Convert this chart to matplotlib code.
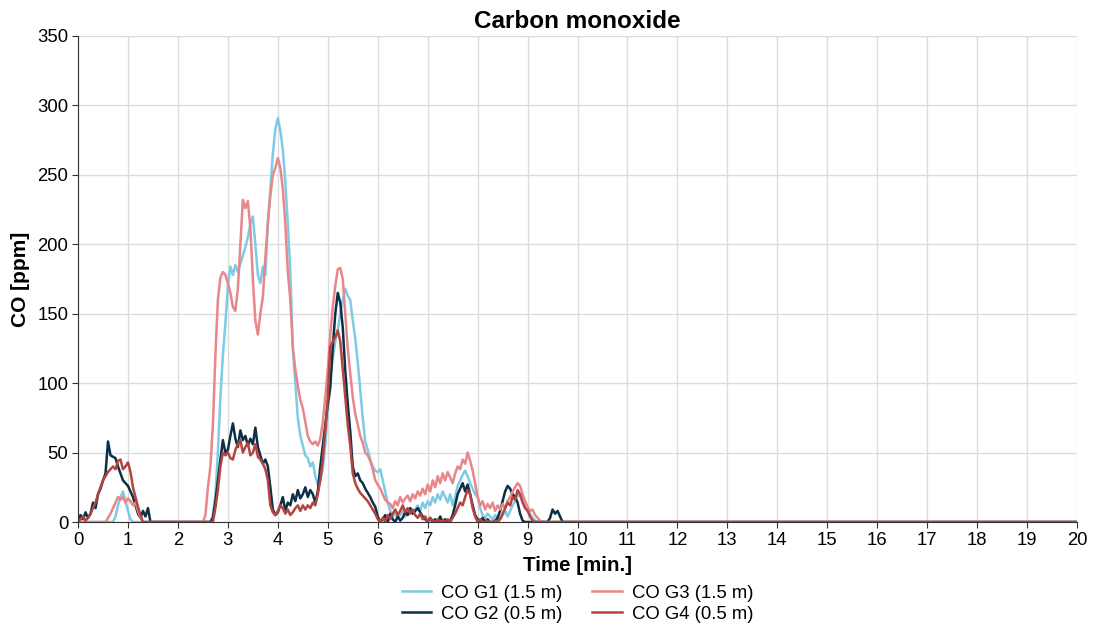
import numpy as np
import matplotlib.pyplot as plt

plt.rcParams['font.family'] = ['Liberation Sans', 'DejaVu Sans']

# time axis: readings every 0.05 min up to 10 min, then flat zero until 20 min
time_min = [round(i * 0.05, 2) for i in range(201)] + [20.0]

co_g1 = [
    0, 0, 0, 0, 0, 0, 0, 0, 0, 0, 0, 0, 0, 0, 0, 4, 12, 18, 22, 15,
    8, 2, 0, 0, 0, 0, 0, 0, 0, 0, 0, 0, 0, 0, 0, 0, 0, 0, 0, 0,
    0, 0, 0, 0, 0, 0, 0, 0, 0, 0, 0, 0, 0, 0, 5, 20, 50, 90, 120, 143,
    170, 184, 178, 185, 180, 186, 192, 198, 205, 215, 220, 200, 178, 172, 184, 178, 215, 240, 265, 283,
    291, 282, 268, 245, 215, 180, 125, 100, 75, 62, 55, 48, 46, 40, 43, 33, 27, 30, 38, 55,
    80, 102, 118, 130, 138, 150, 160, 168, 163, 160, 145, 132, 115, 95, 75, 58, 52, 45, 40, 37,
    36, 38, 30, 22, 14, 8, 4, 6, 3, 5, 8, 4, 7, 10, 6, 9, 12, 8, 14, 10,
    15, 12, 18, 14, 20, 16, 22, 18, 14, 20, 12, 18, 26, 30, 34, 37, 33, 28, 24, 20,
    18, 10, 5, 3, 6, 4, 2, 5, 3, 2, 5, 8, 4, 8, 12, 15, 20, 18, 20, 14,
    10, 6, 3, 1, 0, 0, 0, 0, 0, 0, 0, 0, 0, 0, 0, 0, 0, 0, 0, 0,
    0, 0,
]

co_g2 = [
    0, 5, 2, 7, 3, 6, 14, 10, 20, 24, 30, 35, 58, 48, 47, 46, 40, 35, 30, 28,
    26, 22, 18, 12, 6, 3, 8, 4, 10, 0, 0, 0, 0, 0, 0, 0, 0, 0, 0, 0,
    0, 0, 0, 0, 0, 0, 0, 0, 0, 0, 0, 0, 0, 0, 3, 15, 30, 45, 59, 50,
    52, 62, 71, 60, 54, 66, 59, 62, 55, 60, 56, 68, 54, 48, 42, 45, 40, 25, 9, 5,
    7, 12, 18, 8, 14, 12, 20, 15, 23, 17, 20, 25, 18, 23, 20, 14, 22, 40, 55, 70,
    85, 97, 126, 150, 165, 158, 140, 109, 85, 65, 40, 33, 35, 30, 28, 24, 21, 18, 14, 11,
    4, 0, 2, 5, 0, 6, 2, 0, 4, 1, 3, 7, 5, 10, 6, 8, 10, 7, 4, 2,
    0, 3, 0, 2, 0, 4, 0, 2, 0, 1, 5, 12, 20, 24, 28, 22, 27, 20, 12, 5,
    2, 0, 3, 0, 2, 0, 0, 1, 3, 8, 15, 22, 26, 24, 20, 18, 14, 6, 1, 0,
    0, 0, 0, 0, 0, 0, 0, 0, 0, 3, 9, 6, 8, 4, 0, 0, 0, 0, 0, 0,
    0, 0,
]

co_g3 = [
    0, 0, 0, 0, 0, 0, 0, 0, 0, 0, 0, 0, 3, 6, 10, 14, 18, 16, 18, 14,
    17, 15, 12, 14, 8, 3, 0, 0, 0, 0, 0, 0, 0, 0, 0, 0, 0, 0, 0, 0,
    0, 0, 0, 0, 0, 0, 0, 0, 0, 0, 0, 5, 25, 40, 70, 120, 160, 176, 180, 178,
    172, 165, 155, 152, 168, 200, 232, 226, 231, 212, 175, 145, 135, 150, 162, 190, 215, 235, 250, 255,
    262, 255, 240, 215, 180, 160, 126, 110, 98, 88, 82, 72, 62, 58, 56, 58, 55, 60, 72, 90,
    110, 135, 155, 170, 182, 183, 175, 150, 125, 107, 90, 78, 70, 62, 57, 50, 48, 44, 38, 30,
    27, 24, 20, 16, 14, 13, 10, 15, 12, 18, 14, 17, 19, 15, 20, 17, 22, 19, 24, 20,
    27, 22, 30, 25, 33, 28, 35, 30, 36, 32, 28, 35, 40, 38, 45, 42, 50, 44, 37, 28,
    18, 12, 15, 9, 13, 10, 14, 8, 12, 9, 13, 10, 15, 18, 22, 25, 28, 26, 20, 15,
    11, 8, 9, 5, 3, 1, 0, 0, 0, 0, 0, 0, 0, 0, 0, 0, 0, 0, 0, 0,
    0, 0,
]

co_g4 = [
    0, 2, 4, 1, 3, 6, 10, 14, 20, 25, 30, 33, 36, 38, 40, 38, 44, 45, 38, 40,
    43, 36, 25, 18, 11, 5, 0, 0, 0, 0, 0, 0, 0, 0, 0, 0, 0, 0, 0, 0,
    0, 0, 0, 0, 0, 0, 0, 0, 0, 0, 0, 0, 0, 0, 0, 10, 23, 40, 50, 48,
    50, 46, 45, 52, 56, 59, 50, 54, 57, 48, 50, 56, 47, 45, 42, 38, 30, 12, 7, 5,
    8, 12, 10, 6, 9, 5, 7, 10, 12, 8, 12, 9, 12, 10, 14, 12, 20, 30, 45, 66,
    90, 126, 130, 133, 138, 130, 110, 90, 70, 55, 35, 28, 24, 21, 19, 17, 15, 12, 9, 6,
    2, 0, 3, 0, 5, 2, 6, 9, 5, 8, 12, 7, 10, 6, 9, 5, 3, 6, 2, 4,
    0, 3, 1, 0, 2, 0, 1, 0, 2, 0, 3, 6, 10, 14, 12, 18, 23, 20, 10, 4,
    0, 2, 0, 0, 1, 0, 0, 1, 0, 2, 6, 10, 14, 12, 18, 16, 23, 20, 14, 10,
    8, 4, 1, 0, 0, 0, 0, 0, 0, 0, 0, 0, 0, 0, 0, 0, 0, 0, 0, 0,
    0, 0,
]

labels = ['CO G1 (1.5 m)', 'CO G2 (0.5 m)', 'CO G3 (1.5 m)', 'CO G4 (0.5 m)']
colors = ['#7fcbe6', '#0d2f47', '#e8868a', '#b3443f']

fig = plt.figure(figsize=(10.96, 6.30), dpi=100)
ax = fig.add_axes([0.0712, 0.1714, 0.9115, 0.7715])

for series, lab, col in zip([co_g1, co_g2, co_g3, co_g4], labels, colors):
    ax.plot(time_min, series, color=col, lw=1.8, label=lab)

ax.set_xlim(0, 20)
ax.set_ylim(0, 350)
ax.set_xticks(range(0, 21))
ax.set_yticks(range(0, 351, 50))
ax.grid(True, color='#dcdcdc', lw=1.0)
ax.set_axisbelow(True)
for side in ['top', 'right']:
    ax.spines[side].set_visible(False)
ax.spines['left'].set_color('#333333')
ax.spines['bottom'].set_color('#333333')
ax.tick_params(labelsize=13.3, length=4, color='#333333', pad=3)

ax.set_title('Carbon monoxide', fontsize=17.5, fontweight='bold', pad=6)
ax.set_xlabel('Time [min.]', fontsize=14.8, fontweight='bold', labelpad=5)
ax.set_ylabel('CO [ppm]', fontsize=15, fontweight='bold', labelpad=5)

ax.legend(ncol=2, loc='upper center', bbox_to_anchor=(0.5, -0.095),
          frameon=False, fontsize=13.3, handlelength=1.6, handletextpad=0.55,
          columnspacing=1.6, labelspacing=0.2)

fig.savefig('out.png', dpi=100)
